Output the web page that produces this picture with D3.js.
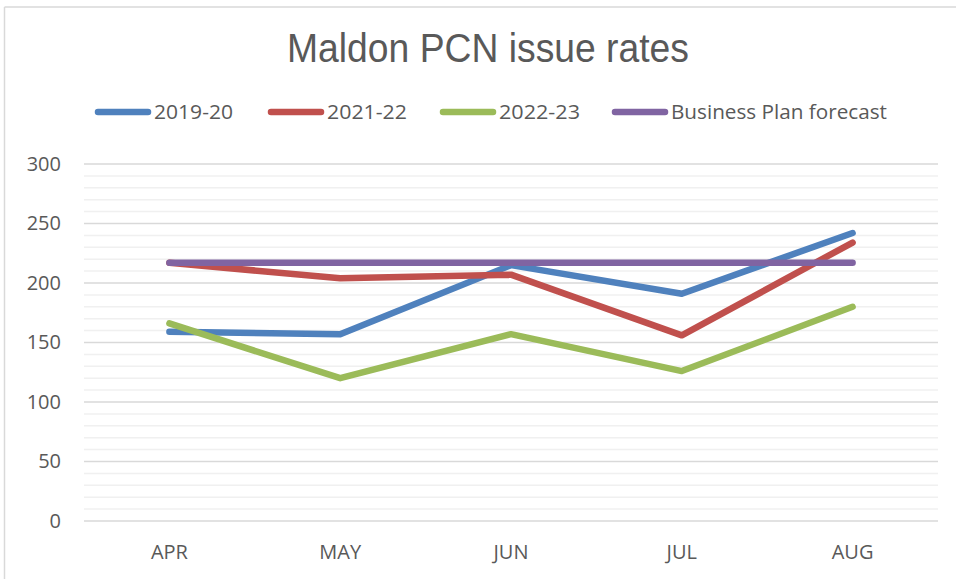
<!DOCTYPE html>
<html>
<head>
<meta charset="utf-8">
<script src="https://cdn.jsdelivr.net/npm/d3@7"></script>
<style>
  html, body { margin: 0; padding: 0; background: #fff; }
  svg { display: block; }
</style>
</head>
<body>
<script>
const months = ["APR", "MAY", "JUN", "JUL", "AUG"];
const s2019 = [159, 157, 215, 191, 242];
const s2021 = [217, 204, 207, 156, 234];
const s2022 = [166, 120, 157, 126, 180];
const sPlan = [217, 217, 217, 217, 217];
const seriesNames = ["2019-20", "2021-22", "2022-23", "Business Plan forecast"];
const seriesColors = ["#4f81bd", "#c0504d", "#9bbb59", "#8064a2"];
const yTicks = [0, 50, 100, 150, 200, 250, 300];
const title = "Maldon PCN issue rates";

const W = 956, H = 579;
const svg = d3.select("body").append("svg").attr("width", W).attr("height", H);

// chart border (top and left visible)
svg.append("line").attr("x1", 4.5).attr("x2", W).attr("y1", 7).attr("y2", 7).attr("stroke", "#d9d9d9").attr("stroke-width", 1.5);
svg.append("line").attr("x1", 4.5).attr("x2", 4.5).attr("y1", 7).attr("y2", H).attr("stroke", "#d9d9d9").attr("stroke-width", 1.5);

const plot = { left: 84, right: 938, top: 164, bottom: 521 };
const x = d3.scaleBand().domain(months).range([plot.left, plot.right]);
const y = d3.scaleLinear().domain([0, 300]).range([plot.bottom, plot.top]);
const cx = m => x(m) + x.bandwidth() / 2;

// minor gridlines
const minor = d3.range(0, 301, 10).filter(v => v % 50 !== 0);
svg.append("g").selectAll("line").data(minor).join("line")
  .attr("x1", plot.left).attr("x2", plot.right)
  .attr("y1", d => y(d)).attr("y2", d => y(d))
  .attr("stroke", "#f0f0f0").attr("stroke-width", 1.5);
// major gridlines
svg.append("g").selectAll("line").data(yTicks).join("line")
  .attr("x1", plot.left).attr("x2", plot.right)
  .attr("y1", d => y(d)).attr("y2", d => y(d))
  .attr("stroke", "#d9d9d9").attr("stroke-width", 1.5);

// y axis
const yAxis = svg.append("g").attr("transform", `translate(${plot.left},0)`)
  .call(d3.axisLeft(y).tickValues(yTicks).tickSize(0).tickPadding(23));
yAxis.select(".domain").remove();
yAxis.selectAll("text").attr("font-family", "'Open Sans', sans-serif").attr("font-size", 20).attr("fill", "#595959");

// x axis
const xAxis = svg.append("g").attr("transform", `translate(0,${plot.bottom})`)
  .call(d3.axisBottom(x).tickSize(0).tickPadding(24));
xAxis.select(".domain").remove();
xAxis.selectAll("text").attr("font-family", "'Open Sans', sans-serif").attr("font-size", 20).attr("fill", "#595959");

// lines
const allSeries = [s2019, s2021, s2022, sPlan];
const line = d3.line().x((d, i) => cx(months[i])).y(d => y(d));
svg.append("g").selectAll("path").data(allSeries).join("path")
  .attr("d", d => line(d))
  .attr("fill", "none")
  .attr("stroke", (d, i) => seriesColors[i])
  .attr("stroke-width", 6.5)
  .attr("stroke-linecap", "round")
  .attr("stroke-linejoin", "round");

// title
svg.append("text").attr("x", 488).attr("y", 62).attr("text-anchor", "middle")
  .attr("font-family", "'Liberation Sans', Arial, sans-serif").attr("font-size", 40)
  .attr("fill", "#595959").attr("textLength", 402).attr("lengthAdjust", "spacingAndGlyphs")
  .text(title);

// legend
const legX = [95, 268, 440, 612];
const legTextW = [79, 80, 81, 216];
const leg = svg.append("g");
seriesNames.forEach((n, i) => {
  leg.append("line").attr("x1", legX[i] + 3).attr("x2", legX[i] + 53)
    .attr("y1", 112).attr("y2", 112)
    .attr("stroke", seriesColors[i]).attr("stroke-width", 6.5).attr("stroke-linecap", "round");
  leg.append("text").attr("x", legX[i] + 59).attr("y", 119)
    .attr("font-family", "'Open Sans', sans-serif").attr("font-size", 20)
    .attr("fill", "#595959").attr("textLength", legTextW[i]).attr("lengthAdjust", "spacingAndGlyphs")
    .text(n);
});
</script>
</body>
</html>
